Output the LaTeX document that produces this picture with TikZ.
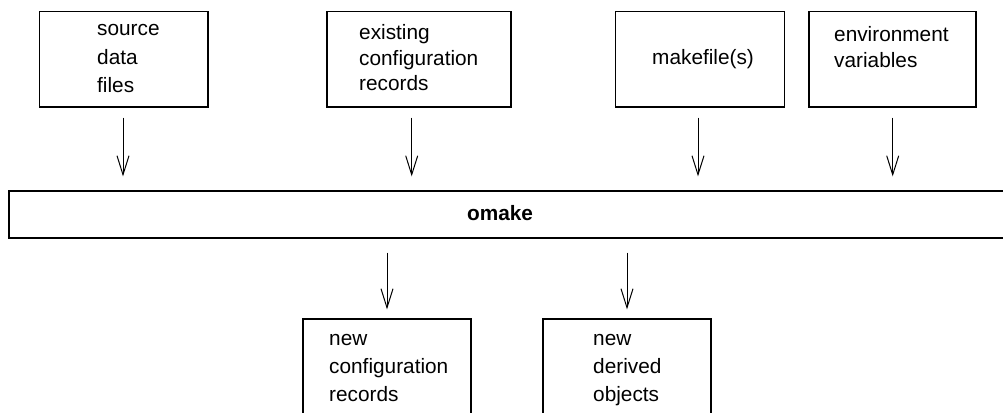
\documentclass[tikz,border=0pt]{standalone}
\usepackage{fontspec}
\setmainfont{Liberation Sans}
\usetikzlibrary{arrows.meta}
\begin{document}
\begin{tikzpicture}[x=1pt,y=-1pt,
  box/.style={draw,line width=1.2pt,inner sep=0pt},
  txt/.style={inner sep=0pt,anchor=base west,align=left},
  arr/.style={line width=1pt,-{Straight Barb[length=19pt,width=12pt,line width=1pt]}}]
\useasboundingbox (0,0) rectangle (1003,412);
\clip (0,0) rectangle (1003,412);
% top boxes
\node[box,minimum width=168.5pt,minimum height=95.5pt] (src) at (123.75,59.25) {};
\node[box,minimum width=184pt,minimum height=95.5pt] (exi) at (419,59.25) {};
\node[box,minimum width=169pt,minimum height=95.5pt] (mkf) at (700,59.25) {};
\node[box,minimum width=167pt,minimum height=95.5pt] (env) at (892.5,59.25) {};
% texts (base anchor = last line)
\node[txt,font=\fontsize{20.8}{28.3}\selectfont] (tsrc) at (97,92.3) {source\\data\\files};
\node[txt,font=\fontsize{20.8}{25.7}\selectfont] (texi) at (359,90.7) {existing\\configuration\\records};
\node[txt,font=\fontsize{20.8}{25.7}\selectfont] (tmkf) at (652,64) {makefile(s)};
\node[txt,font=\fontsize{20.8}{26}\selectfont] (tenv) at (834,67) {environment\\variables};
% bar
\node[box,minimum width=1011pt,minimum height=47pt] (bar) at (514.5,214.5) {};
\node[inner sep=0pt,anchor=base,font=\fontsize{20.8}{25}\selectfont\bfseries] (om) at (500,220) {omake};
% bottom boxes
\node[box,minimum width=168pt,minimum height=106pt] (ncr) at (387,372) {};
\node[box,minimum width=168pt,minimum height=106pt] (ndo) at (627,372) {};
\node[txt,font=\fontsize{20.8}{28}\selectfont] (tncr) at (329,401.7) {new\\configuration\\records};
\node[txt,font=\fontsize{20.8}{28}\selectfont] (tndo) at (593,401.7) {new\\derived\\objects};
% arrows
\draw[arr,shorten <=10pt,shorten >=14pt] ([xshift=-0.75pt]src.south) -- ([xshift=-0.75pt]src.south |- bar.north);
\draw[arr,shorten <=10pt,shorten >=14pt] ([xshift=-7.3pt]exi.south) -- ([xshift=-7.3pt]exi.south |- bar.north);
\draw[arr,shorten <=10pt,shorten >=14pt] ([xshift=-2pt]mkf.south) -- ([xshift=-2pt]mkf.south |- bar.north);
\draw[arr,shorten <=10pt,shorten >=14pt] ([xshift=0.2pt]env.south) -- ([xshift=0.2pt]env.south |- bar.north);
\draw[arr,shorten <=14pt,shorten >=9pt] (bar.south -| ncr.north) -- (ncr.north);
\draw[arr,shorten <=14pt,shorten >=9pt] (bar.south -| ndo.north) -- (ndo.north);
\end{tikzpicture}
\end{document}
